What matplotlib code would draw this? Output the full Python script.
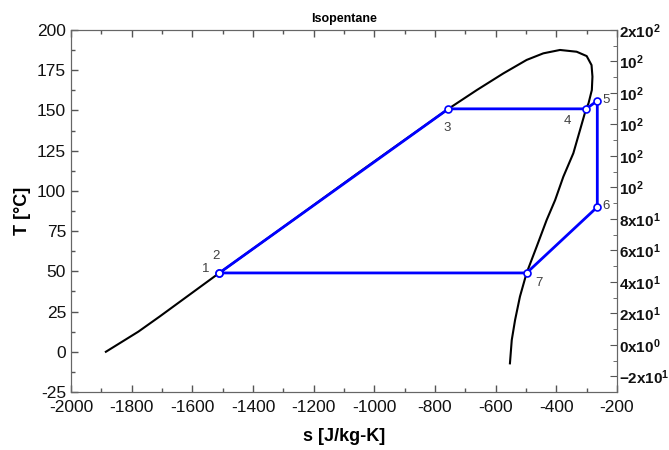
import matplotlib
matplotlib.use('Agg')
import matplotlib.pyplot as plt
from matplotlib.ticker import MultipleLocator, FixedLocator

plt.rcParams['font.family'] = ['Liberation Sans', 'DejaVu Sans']
plt.rcParams['axes.unicode_minus'] = False
plt.rcParams['mathtext.fontset'] = 'custom'
plt.rcParams['mathtext.rm'] = 'Liberation Sans:bold'
plt.rcParams['mathtext.bf'] = 'Liberation Sans:bold'
plt.rcParams['mathtext.it'] = 'Liberation Sans:bold'

# saturation dome, liquid side -> critical point -> vapour side
dome_s = [-1885, -1778, -1707, -1511, -1267, -1047, -756, -662, -575, -498, -443,
          -388, -333, -300, -284, -281, -283, -294, -302, -322, -344, -377, -404,
          -432, -465, -498, -520, -536, -547, -553]
dome_T = [0, 12.5, 22, 49, 82, 112, 151, 162.7, 173, 181.4, 185.5,
          187.6, 186.5, 183.8, 178.2, 171, 162.7, 154.4, 151, 137.8, 123.4, 108.8, 94.3,
          81.9, 65.3, 49, 34.3, 19.8, 7.3, -7.2]

# cycle states 1..7, closed back to 1
cycle_s = [-1511, -1511, -756, -302, -265, -265, -498, -1511]
cycle_T = [49, 49, 151, 151, 156, 90, 49, 49]
state_labels = ['1', '2', '3', '4', '5', '6', '7']
label_offsets = [(-14, 4), (-3, 17), (-1, -19), (-19, -12), (9, 1), (9, 1), (12, -10)]

right_ticks = [-20, 0, 20, 40, 60, 80, 100, 120, 140, 160, 180, 200]
right_labels = [r'$\mathrm{-}2\mathrm{x}10^{1}$', r'$0\mathrm{x}10^{0}$', r'$2\mathrm{x}10^{1}$',
                r'$4\mathrm{x}10^{1}$', r'$6\mathrm{x}10^{1}$', r'$8\mathrm{x}10^{1}$',
                r'$10^{2}$', r'$10^{2}$', r'$10^{2}$', r'$10^{2}$', r'$10^{2}$',
                r'$2\mathrm{x}10^{2}$']

fig = plt.figure(figsize=(6.69, 4.5), dpi=100)
ax = fig.add_axes([0.1061, 0.1289, 0.8162, 0.8044])

ax.plot(dome_s, dome_T, color='black', lw=1.5, zorder=2)
ax.plot(cycle_s, cycle_T, color='#0000ff', lw=2, zorder=3)
ax.plot(cycle_s[:-1], cycle_T[:-1], 'o', ms=5, mfc='white', mec='#0000ff', mew=1.2, zorder=4)
for lab, s, T, off in zip(state_labels, cycle_s, cycle_T, label_offsets):
    ax.annotate(lab, (s, T), xytext=off, textcoords='offset pixels',
                ha='center', va='center', fontsize=9.5, color='#404040')

ax.set_xlim(-2000, -200)
ax.set_ylim(-25, 200)
ax.xaxis.set_major_locator(MultipleLocator(200))
ax.xaxis.set_minor_locator(MultipleLocator(100))
ax.yaxis.set_major_locator(MultipleLocator(25))
ax.yaxis.set_minor_locator(MultipleLocator(12.5))
ax.tick_params(which='both', direction='in', top=True, right=False, color='#555555',
               labelsize=12.5, labelcolor='#111111')
ax.tick_params(axis='x', pad=6)
ax.tick_params(which='major', length=5, width=1)
ax.tick_params(which='minor', length=3, width=1)
for sp in ax.spines.values():
    sp.set_color('#666666')

ax.set_xlabel('s [J/kg-K]', fontsize=13, fontweight='bold', labelpad=9)
ax.set_ylabel('T [°C]', fontsize=13, fontweight='bold', labelpad=4)
ax.set_title('Isopentane', fontsize=9, fontweight='bold', pad=6)

ax2 = ax.twinx()
ax2.set_ylim(-30, 200)
ax2.yaxis.set_major_locator(FixedLocator(right_ticks))
ax2.yaxis.set_minor_locator(MultipleLocator(10))
ax2.set_yticklabels(right_labels)
ax2.tick_params(which='both', direction='in', color='#555555', labelsize=11,
                labelcolor='#111111', pad=1.5)
ax2.tick_params(which='major', length=5)
ax2.tick_params(which='minor', length=3)
for sp in ax2.spines.values():
    sp.set_color('#666666')

fig.savefig('out.png', dpi=100)
